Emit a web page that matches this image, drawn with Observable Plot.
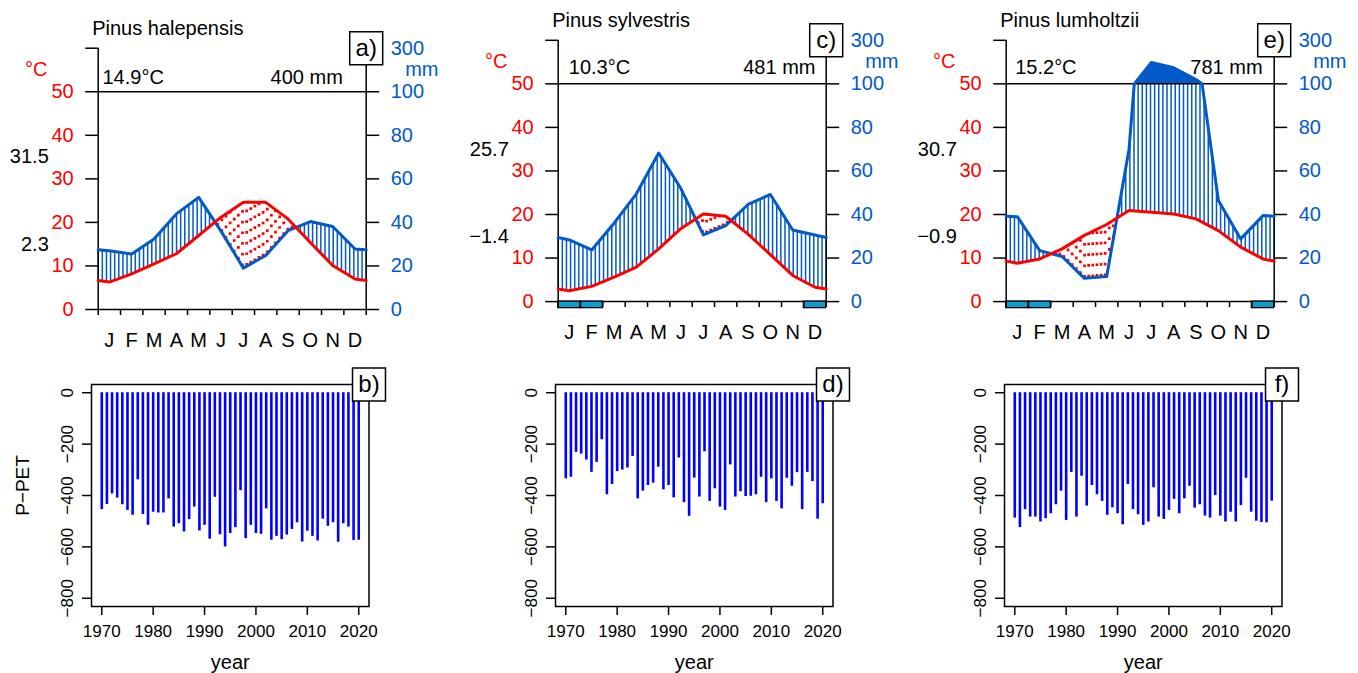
<!DOCTYPE html>
<html><head><meta charset="utf-8">
<script src="https://cdn.jsdelivr.net/npm/d3@7"></script>
<script src="https://cdn.jsdelivr.net/npm/@observablehq/plot@0.6"></script>
<style>
body{margin:0;background:#fff;}
#wrap{position:relative;width:1358px;height:673px;overflow:hidden;background:#fff;}
#wrap svg{position:absolute;}
</style></head><body><div id="wrap"></div>
<script>
// ---------- data ----------
const months = ["J","F","M","A","M","J","J","A","S","O","N","D"];
const species = ["Pinus halepensis","Pinus sylvestris","Pinus lumholtzii"];
const climateTags = ["a)","c)","e)"];
const droughtTags = ["b)","d)","f)"];
const meanTempText = ["14.9°C","10.3°C","15.2°C"];
const annualPrecText = ["400 mm","481 mm","781 mm"];
const absMaxText = ["31.5","25.7","30.7"];
const absMinText = ["2.3","−1.4","−0.9"];

const tempHalepensis = [6.3, 8.2, 10.5, 12.8, 17.0, 21.2, 24.6, 24.6, 20.8, 15.4, 10.1, 7.0];
const precHalepensis = [27, 25.5, 32.4, 43.9, 51.5, 36, 19, 24.8, 36.2, 40.4, 38.1, 27.8];
const tempSylvestris = [2.5, 3.5, 5.6, 7.9, 12.1, 16.8, 20.1, 19.6, 15.5, 10.8, 6.0, 3.3];
const precSylvestris = [28.3, 23.7, 36.0, 49.5, 68.2, 51.8, 30.6, 34.9, 44.6, 49.2, 32.9, 30.6];
const tempLumholtzii = [8.8, 9.8, 12.1, 15.2, 17.7, 20.9, 20.5, 20.1, 19.0, 16.3, 12.5, 9.8];
const precLumholtzii = [39, 23.4, 20.7, 10.7, 11.5, 70, 198, 174, 120, 46.4, 28.8, 39.5];
const frostHalepensis = [];
const frostSylvestris = [0, 1, 11];
const frostLumholtzii = [0, 1, 11];

const tempTicks = [0, 10, 20, 30, 40, 50, 60];
const tempTickLabels = ["0","10","20","30","40","50",""];
const precTickLabels = ["0","20","40","60","80","100","300"];

const years = [1970,1971,1972,1973,1974,1975,1976,1977,1978,1979,
  1980,1981,1982,1983,1984,1985,1986,1987,1988,1989,
  1990,1991,1992,1993,1994,1995,1996,1997,1998,1999,
  2000,2001,2002,2003,2004,2005,2006,2007,2008,2009,
  2010,2011,2012,2013,2014,2015,2016,2017,2018,2019,2020];
const ppetHalepensis = [-455,-435,-394,-410,-436,-458,-477,-339,-474,-516,
  -465,-468,-468,-413,-523,-510,-542,-494,-445,-538,
  -516,-570,-407,-553,-600,-548,-525,-381,-568,-516,
  -548,-551,-452,-574,-559,-572,-554,-532,-506,-581,
  -539,-559,-577,-492,-520,-506,-582,-510,-523,-575,-574];
const ppetSylvestris = [-335,-329,-232,-239,-262,-310,-271,-183,-397,-357,
  -307,-301,-293,-248,-413,-383,-361,-352,-290,-378,
  -361,-409,-254,-428,-481,-332,-406,-230,-423,-374,
  -445,-458,-281,-406,-385,-404,-403,-397,-329,-428,
  -335,-423,-452,-333,-364,-311,-455,-310,-346,-492,-432];
const ppetLumholtzii = [-488,-525,-455,-484,-484,-503,-490,-471,-436,-383,
  -497,-310,-484,-325,-441,-361,-397,-423,-477,-448,
  -471,-514,-357,-455,-475,-516,-503,-370,-484,-493,
  -458,-415,-471,-413,-364,-449,-436,-480,-488,-400,
  -480,-503,-465,-503,-439,-333,-465,-500,-505,-506,-422];
const yearTicks = [1970, 1980, 1990, 2000, 2010, 2020];
const ppetTicks = [0, -200, -400, -600, -800];

// ---------- style / layout ----------
const tcol = "#ff0000", pcol = "#005ac8", frostCol = "#09a0d1", barCol = "#0000ff";
const font = '"Liberation Sans", Arial, Helvetica, sans-serif';
const wrap = document.getElementById("wrap");

const climateLayout = [
  {left: 0, top: 47.7, tempDx: 4.3, precDx: -23.4, headY: 53.3},
  {left: 460, top: 39.8, tempDx: 10.6, precDx: -10.7, headY: 53.8},
  {left: 908.3, top: 39.8, tempDx: 9, precDx: -11.6, headY: 53.8}
];
const barLayout = [{left: 0}, {left: 464}, {left: 912.7}];

const ptrans = p => p <= 100 ? p / 2 : 50 + (p - 100) / 20;

function climatePanel(i, T, P, frost) {
  const L = climateLayout[i];
  const W = 446, H = 352, plotW = 268, plotH = 261.3, mL = 97.7;
  const edgeT = (T[0] + T[11]) / 2, edgeP = (P[0] + P[11]) / 2;
  const xs = [0, ...T.map((_, k) => k + 0.5), 12];
  const Tx = [edgeT, ...T, edgeT];
  const Px = [edgeP, ...P, edgeP];
  const interp = (arr, x) => {
    let k = 0;
    while (k < xs.length - 2 && x > xs[k + 1]) k++;
    const f = (x - xs[k]) / (xs[k + 1] - xs[k]);
    return arr[k] + f * (arr[k + 1] - arr[k]);
  };
  // precipitation polyline (piecewise linear in mm, then scale-transformed)
  const pline = [];
  for (let k = 0; k < xs.length; k++) {
    if (k > 0) {
      const a = Px[k - 1], b = Px[k];
      if ((a - 100) * (b - 100) < 0) {
        const f = (100 - a) / (b - a);
        pline.push({x: xs[k - 1] + f * (xs[k] - xs[k - 1]), y: 50});
      }
    }
    pline.push({x: xs[k], y: ptrans(Px[k])});
  }
  const tline = xs.map((x, k) => ({x, y: Tx[k]}));
  const N = 66;
  const samples = d3.range(N).map(j => { const x = 12 * j / (N - 1); return {x, t: interp(Tx, x), p: interp(Px, x)}; });
  const humid = samples.filter(d => d.p / 2 > d.t).map(d => ({x: d.x, y1: d.t, y2: Math.min(d.p, 100) / 2}));
  const dry = samples.filter(d => d.p / 2 < d.t).map(d => ({x: d.x, y1: d.p / 2, y2: d.t}));
  const hasWet = Math.max(...P) > 100;

  const marks = [
    Plot.ruleX(humid, {x: "x", y1: "y1", y2: "y2", stroke: pcol, strokeWidth: 1.5}),
    Plot.ruleX(dry, {x: "x", y1: "y1", y2: "y2", stroke: tcol, strokeWidth: 2.7, strokeDasharray: "2.7,8"}),
  ];
  if (hasWet) marks.push(Plot.areaY(pline, {x: "x", y1: 50, y2: d => Math.max(50, d.y), fill: pcol}));
  marks.push(
    Plot.ruleX([0, 12], {y1: 0, y2: 60, stroke: "black", strokeWidth: 1.5}),
    Plot.ruleY([0, 50], {x1: 0, x2: 12, stroke: "black", strokeWidth: 1.5}),
    Plot.rect(frost, {x1: d => d, x2: d => d + 1, y1: -1.5, y2: 0, fill: frostCol, stroke: "black", strokeWidth: 1.3}),
    Plot.axisX(d3.range(13), {anchor: "bottom", tickSize: 6, tickFormat: () => "", label: null, stroke: "black", strokeWidth: 1.5}),
    Plot.text(months, {x: (d, k) => k + 0.5, y: 0, dy: 31, text: d => d, fontSize: 20, lineAnchor: "middle", fill: "black"}),
    Plot.axisY(tempTicks, {anchor: "left", tickSize: 12.5, tickPadding: 12, tickFormat: (d, k) => tempTickLabels[tempTicks.indexOf(d)], label: null, stroke: "black", strokeWidth: 1.5, fill: tcol, fontSize: 20}),
    Plot.axisY(tempTicks, {anchor: "right", tickSize: 12.5, tickPadding: 12, tickFormat: d => precTickLabels[tempTicks.indexOf(d)], label: null, stroke: "black", strokeWidth: 1.5, fill: pcol, fontSize: 20}),
    Plot.line(pline, {x: "x", y: "y", stroke: pcol, strokeWidth: 3, strokeLinejoin: "round"}),
    Plot.line(tline, {x: "x", y: "y", stroke: tcol, strokeWidth: 3, strokeLinejoin: "round"}),
    Plot.text([species[i]], {x: 0, y: 60, dx: -6, dy: -20, textAnchor: "start", fontSize: 20, fill: "black"}),
    Plot.text([meanTempText[i]], {x: 0, y: L.headY, dx: L.tempDx, textAnchor: "start", fontSize: 20, fill: "black"}),
    Plot.text([annualPrecText[i]], {x: 12, y: L.headY, dx: L.precDx, textAnchor: "end", fontSize: 20, fill: "black"}),
    Plot.text([absMaxText[i]], {x: 0, y: 35, dx: -49.4, textAnchor: "end", fontSize: 20, fill: "black"}),
    Plot.text([absMinText[i]], {x: 0, y: 15, dx: -49.4, textAnchor: "end", fontSize: 20, fill: "black"}),
    Plot.text(["°C"], {x: 0, y: 55, dx: -62, textAnchor: "middle", fontSize: 20, fill: tcol}),
    Plot.text(["mm"], {x: 12, y: 55, dx: 39, textAnchor: "start", fontSize: 20, fill: pcol}),
    Plot.dot([0], {x: 12, y: 60, symbol: "square", r: 18.6, fill: "white", stroke: "black", strokeWidth: 1.5}),
    Plot.text([climateTags[i]], {x: 12, y: 60, fontSize: 24, lineAnchor: "middle", fill: "black"})
  );

  const svg = Plot.plot({
    width: W, height: H,
    marginLeft: mL, marginRight: W - mL - plotW, marginTop: L.top, marginBottom: H - L.top - plotH,
    x: {domain: [0, 12], label: null},
    y: {domain: [0, 60], label: null},
    style: {fontFamily: font, fontSize: "20px", background: "transparent", color: "black", overflow: "visible"},
    marks
  });
  svg.style.left = L.left + "px";
  svg.style.top = "0px";
  wrap.appendChild(svg);
}

function barPanel(i, vals) {
  const W = 400, H = 318, mL = 91, plotW = 277.5, mT = 29, mB = 67;
  const marks = [
    Plot.ruleX(years, {x: d => d, y1: 0, y2: (d, k) => vals[k], stroke: barCol, strokeWidth: 2.6}),
    Plot.frame({stroke: "black", strokeWidth: 1.5}),
    Plot.axisY(ppetTicks, {anchor: "left", tickSize: 9, tickFormat: () => "", label: null, stroke: "black", strokeWidth: 1.5}),
    Plot.text(ppetTicks, {y: d => d, frameAnchor: "left", dx: -24, rotate: -90, text: d => d3.format("d")(d).replace("-", "−"), fontSize: 17, textAnchor: "middle", lineAnchor: "middle", fill: "black"}),
    Plot.axisX(yearTicks, {anchor: "bottom", tickSize: 9, tickPadding: 9, tickFormat: d => String(d), fontSize: 17, label: null, stroke: "black", strokeWidth: 1.5, fill: "black"}),
    Plot.text(["year"], {frameAnchor: "bottom", dy: 56, fontSize: 20, lineAnchor: "middle", fill: "black"}),
    Plot.dot([0], {x: 2022, y: 32, symbol: "square", r: 18.6, fill: "white", stroke: "black", strokeWidth: 1.5}),
    Plot.text([droughtTags[i]], {x: 2022, y: 32, fontSize: 24, lineAnchor: "middle", fill: "black"})
  ];
  if (i === 0) marks.push(Plot.text(["P−PET"], {frameAnchor: "left", dx: -69, dy: -10, rotate: -90, fontSize: 19, textAnchor: "middle", lineAnchor: "middle", fill: "black"}));
  const svg = Plot.plot({
    width: W, height: H,
    marginLeft: mL, marginRight: W - mL - plotW, marginTop: mT, marginBottom: mB,
    x: {domain: [1968, 2022], label: null},
    y: {domain: [-832, 32], label: null},
    style: {fontFamily: font, fontSize: "17px", background: "transparent", color: "black", overflow: "visible"},
    marks
  });
  svg.style.left = barLayout[i].left + "px";
  svg.style.top = "355px";
  wrap.appendChild(svg);
}

climatePanel(0, tempHalepensis, precHalepensis, frostHalepensis);
climatePanel(1, tempSylvestris, precSylvestris, frostSylvestris);
climatePanel(2, tempLumholtzii, precLumholtzii, frostLumholtzii);
barPanel(0, ppetHalepensis);
barPanel(1, ppetSylvestris);
barPanel(2, ppetLumholtzii);
</script></body></html>
